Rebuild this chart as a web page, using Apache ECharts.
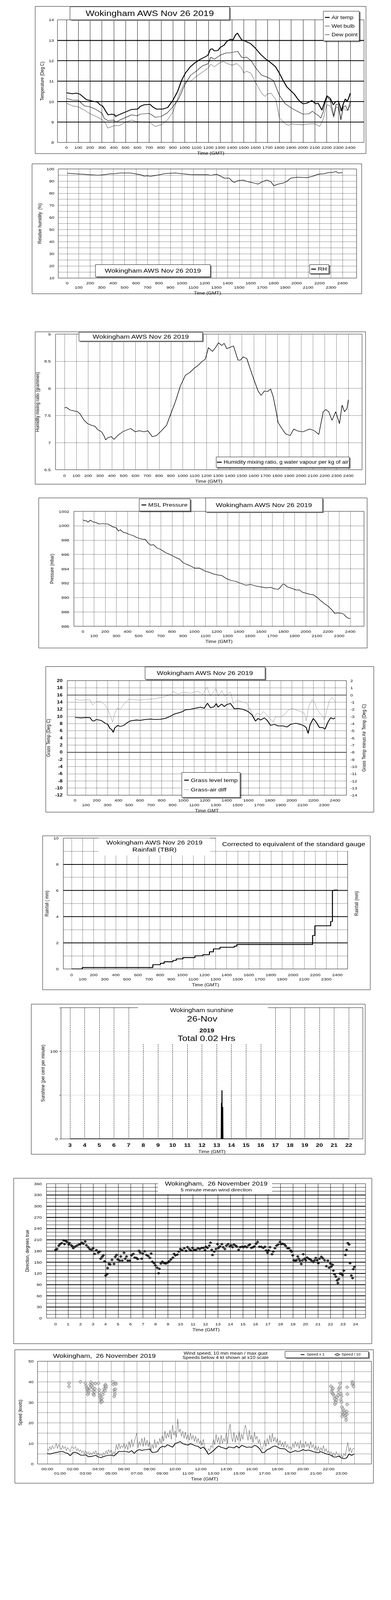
<!DOCTYPE html>
<html><head><meta charset="utf-8">
<script src="https://cdn.jsdelivr.net/npm/echarts@6/dist/echarts.min.js"></script>
<style>html,body{margin:0;padding:0;background:#fff;overflow:hidden}#wrap{position:relative;width:1000px;height:5000px;background:#fff;transform-origin:0 0}.band{position:absolute;left:0;width:1000px}</style>
</head><body><div id="wrap"></div>
<script>
// ---------- tick values ----------
const timeTicks = [0,100,200,300,400,500,600,700,800,900,1000,1100,1200,1300,1400,1500,1600,1700,1800,1900,2000,2100,2200,2300,2400];
const hourTicks = [0,1,2,3,4,5,6,7,8,9,10,11,12,13,14,15,16,17,18,19,20,21,22,23,24];
const sunTicks = [3,4,5,6,7,8,9,10,11,12,13,14,15,16,17,18,19,20,21,22];

// ---------- 1. temperatures ----------
const airTemp = [[0,10.43],[50,10.38],[83,10.41],[114,10.36],[167,10.1],[220,10.02],[263,9.97],[284,9.84],[305,9.79],[337,9.48],[352,9.35],[379,9.38],[407,9.36],[415,9.27],[443,9.35],[496,9.48],[549,9.61],[602,9.63],[623,9.76],[655,9.84],[708,9.86],[729,9.74],[761,9.63],[814,9.63],[856,9.71],[899,10.05],[941,10.51],[973,11.03],[1005,11.39],[1047,11.70],[1090,11.91],[1132,12.07],[1174,12.19],[1196,12.27],[1217,12.56],[1234,12.58],[1249,12.48],[1280,12.50],[1302,12.66],[1333,12.76],[1355,12.94],[1386,13.05],[1408,13.02],[1429,13.26],[1446,13.35],[1461,13.2],[1482,13.02],[1503,12.98],[1556,12.84],[1598,12.61],[1640,12.32],[1683,12.09],[1725,11.91],[1768,11.70],[1800,11.39],[1832,11.03],[1863,10.72],[1895,10.54],[1927,10.36],[1959,10.1],[1980,9.97],[2001,9.89],[2033,9.92],[2075,10.05],[2107,9.89],[2128,9.92],[2160,9.58],[2181,9.94],[2203,10.28],[2231,10.15],[2256,9.84],[2277,10.0],[2298,10.02],[2315,9.74],[2324,9.53],[2341,9.89],[2358,10.13],[2373,10.0],[2388,10.2],[2400,10.41]];
const wetBulb = [[0,10.16],[50,10.07],[100,10.06],[150,9.79],[200,9.74],[250,9.61],[300,9.43],[320,9.17],[350,9.07],[400,9.09],[420,8.99],[450,9.09],[500,9.22],[550,9.35],[600,9.30],[620,9.38],[700,9.42],[720,9.35],[750,9.23],[800,9.27],[850,9.43],[900,9.74],[950,10.15],[1000,10.82],[1050,11.29],[1100,11.50],[1150,11.75],[1200,11.86],[1220,12.17],[1250,12.07],[1300,12.27],[1350,12.38],[1380,12.38],[1420,12.43],[1450,12.45],[1480,12.17],[1500,12.14],[1520,12.18],[1560,12.01],[1600,11.65],[1650,11.29],[1700,11.19],[1750,11.03],[1800,10.31],[1850,9.89],[1900,9.69],[1950,9.53],[2000,9.38],[2050,9.40],[2080,9.53],[2100,9.43],[2130,9.32],[2150,9.19],[2170,9.48],[2200,10.23],[2230,10.07],[2260,9.30],[2280,9.87],[2300,9.84],[2320,9.12],[2340,9.74],[2360,9.79],[2380,9.56],[2400,10.02]];
const dewPoint = [[0,9.92],[50,9.79],[100,9.74],[150,9.58],[200,9.40],[250,9.27],[300,9.12],[330,8.94],[350,8.70],[400,8.81],[450,8.83],[500,8.99],[550,9.09],[600,9.01],[650,8.99],[700,8.99],[750,8.78],[800,8.86],[850,9.07],[900,9.48],[950,10.31],[1000,10.95],[1050,11.00],[1100,11.24],[1150,11.44],[1200,11.65],[1220,11.83],[1250,11.70],[1300,11.91],[1330,11.96],[1360,11.86],[1400,11.78],[1440,11.86],[1480,11.65],[1500,11.39],[1520,11.49],[1560,11.39],[1600,10.92],[1650,10.41],[1680,10.25],[1700,10.38],[1730,10.41],[1770,10.10],[1800,9.22],[1850,8.91],[1880,8.83],[1900,8.91],[1950,8.88],[2000,8.86],[2050,8.91],[2100,8.91],[2140,8.78],[2170,9.12],[2200,9.84],[2230,9.79],[2260,9.22],[2280,9.74],[2300,9.69],[2320,9.09],[2340,9.69],[2360,9.58],[2380,9.58],[2400,9.84]];

// ---------- 2. relative humidity ----------
const relHum = [[0,96.5],[70,96.0],[135,95.7],[200,95.2],[266,94.8],[332,95.4],[376,96.0],[419,96.2],[463,96.7],[550,96.7],[594,96.0],[638,95.2],[670,94.1],[703,94.3],[725,93.9],[769,94.6],[812,95.4],[856,96.3],[943,96.7],[1009,96.0],[1074,95.4],[1162,95.2],[1227,95.2],[1249,94.7],[1304,95.6],[1337,94.1],[1369,92.4],[1413,92.4],[1435,90.2],[1456,88.8],[1489,90.4],[1533,90.8],[1566,89.7],[1599,89.0],[1642,88.1],[1664,87.5],[1697,89.3],[1740,90.8],[1773,89.7],[1802,86.2],[1839,87.5],[1883,88.4],[1915,89.7],[1948,92.4],[2003,93.2],[2035,93.1],[2090,92.8],[2145,94.1],[2189,95.7],[2233,96.0],[2276,96.9],[2320,97.2],[2341,97.9],[2363,96.7],[2400,96.9]];

// ---------- 3. mixing ratio ----------
const mixRatio = [[0,7.64],[15,7.65],[47,7.60],[68,7.59],[110,7.57],[131,7.53],[163,7.42],[195,7.35],[227,7.32],[259,7.30],[280,7.24],[312,7.20],[333,7.13],[348,7.05],[365,7.09],[396,7.11],[418,7.06],[449,7.13],[492,7.20],[534,7.24],[560,7.26],[598,7.20],[630,7.22],[672,7.20],[704,7.22],[725,7.16],[742,7.11],[778,7.13],[820,7.22],[863,7.32],[895,7.51],[937,7.75],[979,8.04],[1022,8.24],[1064,8.30],[1096,8.37],[1128,8.42],[1160,8.49],[1191,8.54],[1217,8.75],[1251,8.68],[1276,8.75],[1302,8.84],[1329,8.79],[1350,8.83],[1372,8.73],[1403,8.76],[1429,8.78],[1467,8.52],[1488,8.52],[1510,8.58],[1541,8.55],[1573,8.34],[1605,8.14],[1637,7.95],[1662,7.87],[1690,7.95],[1717,7.94],[1743,7.99],[1764,7.85],[1785,7.63],[1806,7.37],[1838,7.26],[1870,7.16],[1908,7.13],[1938,7.25],[1976,7.21],[2018,7.20],[2071,7.25],[2113,7.22],[2150,7.15],[2188,7.57],[2209,7.61],[2234,7.57],[2262,7.41],[2293,7.57],[2325,7.35],[2347,7.69],[2368,7.57],[2389,7.63],[2400,7.79]];

// ---------- 4. MSL pressure ----------
const mslPressure = [[0,1000.8],[20,1000.68],[34,1000.68],[45,1000.48],[67,1000.78],[90,1000.53],[112,1000.48],[146,1000.23],[180,1000.29],[225,1000.23],[247,1000.04],[270,999.82],[297,999.74],[319,999.25],[337,999.44],[360,999.10],[394,998.95],[416,998.78],[450,998.63],[483,998.36],[517,998.18],[540,998.11],[558,998.12],[585,997.59],[607,997.29],[634,997.36],[663,996.92],[697,996.70],[742,996.25],[787,995.95],[832,995.58],[866,995.36],[900,994.84],[933,994.61],[967,994.39],[1001,994.10],[1046,994.10],[1091,993.72],[1136,993.50],[1170,993.28],[1215,993.13],[1248,993.05],[1282,992.68],[1327,992.39],[1372,992.24],[1417,991.97],[1462,991.72],[1507,991.82],[1541,991.64],[1575,991.52],[1608,991.46],[1642,991.35],[1687,991.42],[1721,991.20],[1754,991.15],[1772,991.42],[1795,991.87],[1810,991.82],[1833,991.49],[1878,991.27],[1912,991.05],[1946,991.05],[1968,990.75],[2001,990.60],[2035,990.45],[2069,990.38],[2103,990.01],[2136,989.53],[2170,989.12],[2204,988.75],[2237,988.23],[2260,987.78],[2282,987.85],[2316,987.81],[2339,987.71],[2361,987.33],[2384,987.11],[2400,987.08]];

// ---------- 5. grass temperature ----------
const grassTemp = [[0,9.75],[23,9.66],[58,9.6],[93,9.69],[139,9.66],[157,8.85],[174,8.7],[197,9.15],[243,8.85],[278,8.1],[301,7.8],[324,6.6],[340,6.3],[352,5.55],[366,6.75],[393,7.5],[417,7.2],[451,7.5],[474,8.1],[509,8.75],[567,9.0],[602,8.9],[648,9.15],[694,9.25],[741,9.15],[787,9.2],[833,9.45],[880,10.05],[914,10.64],[949,10.94],[984,11.24],[1018,11.84],[1065,11.99],[1111,12.28],[1157,12.58],[1192,12.28],[1222,13.71],[1250,12.43],[1284,12.73],[1303,13.62],[1319,12.58],[1354,13.47],[1377,12.73],[1400,13.32],[1435,13.62],[1470,12.13],[1504,12.22],[1551,11.99],[1597,11.39],[1632,10.49],[1666,8.7],[1689,9.45],[1713,9.0],[1748,9.6],[1771,9.0],[1805,7.5],[1840,7.8],[1875,7.35],[1921,7.35],[1956,7.05],[1990,7.8],[2037,8.1],[2071,7.86],[2106,7.5],[2134,6.9],[2152,5.26],[2169,7.65],[2199,9.45],[2226,8.4],[2256,6.9],[2286,6.9],[2307,6.45],[2337,8.55],[2360,9.66],[2383,9.3],[2400,9.6]];
const grassAirDiff = [[0,-0.59],[46,-0.74],[104,-0.67],[139,-0.67],[162,-1.41],[197,-0.89],[243,-0.97],[278,-1.41],[306,-2.16],[329,-3.05],[347,-3.8],[366,-2.6],[393,-1.79],[417,-2.01],[451,-1.26],[498,-0.59],[532,-0.64],[579,-0.71],[648,-0.64],[741,-0.52],[810,-0.3],[880,0.03],[903,0.52],[949,0.15],[1007,0.38],[1065,0.23],[1134,0.52],[1180,0.08],[1217,1.09],[1250,-0.15],[1278,0.45],[1301,0.9],[1324,-0.15],[1354,0.6],[1384,-0.22],[1407,0.15],[1435,0.38],[1462,-1.19],[1493,-0.74],[1539,-0.97],[1585,-1.12],[1620,-2.16],[1655,-3.2],[1678,-2.53],[1713,-2.75],[1740,-2.31],[1771,-2.83],[1801,-3.28],[1828,-3.8],[1851,-3.05],[1898,-3.05],[1933,-2.75],[1967,-2.16],[2002,-1.86],[2037,-2.08],[2083,-2.31],[2118,-2.6],[2134,-3.65],[2157,-1.56],[2187,-0.67],[2210,-0.97],[2233,-2.01],[2263,-2.6],[2279,-2.83],[2302,-3.5],[2326,-2.01],[2349,-0.74],[2372,-0.37],[2400,-0.89]];

// ---------- 6. rainfall (cumulative) ----------
const rainfall = [[0,0],[97,0.11],[719,0.11],[734,0.33],[802,0.43],[836,0.55],[915,0.65],[945,0.77],[1006,0.87],[1114,1.0],[1186,1.09],[1245,1.31],[1281,1.53],[1340,1.66],[1469,1.74],[1492,1.87],[2163,1.87],[2176,2.55],[2197,3.3],[2328,3.3],[2339,3.63],[2355,5.99],[2373,6.03],[2400,6.03]];

// ---------- 7. sunshine ----------
const sunshine = [[3,0],[13.31,0],[13.325,41],[13.34,0],[13.345,0],[13.36,55.5],[13.375,0],[13.395,0],[13.41,36.5],[13.425,0],[22,0]];

// ---------- 8. wind direction ----------
const windDir = [[0.0,183],[0.12,185],[0.26,194],[0.36,198],[0.50,201],[0.66,208],[0.72,198],[0.80,207],[0.92,204],[1.06,197],[1.12,201],[1.26,195],[1.36,192],[1.42,187],[1.56,191],[1.71,194],[1.87,197],[1.97,198],[2.11,202],[2.23,199],[2.37,205],[2.47,195],[2.61,190],[2.73,185],[2.87,183],[3.01,187],[3.13,172],[3.27,182],[3.41,175],[3.53,178],[3.61,159],[3.73,164],[3.83,168],[3.93,152],[4.01,114],[4.13,118],[4.17,134],[4.27,145],[4.37,144],[4.52,156],[4.68,145],[4.78,164],[4.88,169],[4.98,157],[5.14,154],[5.22,165],[5.34,154],[5.48,175],[5.58,159],[5.68,165],[5.78,154],[5.94,154],[6.08,168],[6.22,172],[6.34,162],[6.48,161],[6.58,158],[6.68,180],[6.78,175],[6.88,159],[6.98,173],[7.14,179],[7.28,169],[7.42,166],[7.55,161],[7.65,173],[7.75,151],[7.89,147],[7.99,141],[8.13,135],[8.25,120],[8.31,132],[8.43,146],[8.55,151],[8.69,147],[8.83,146],[8.99,149],[9.09,152],[9.23,157],[9.39,162],[9.49,172],[9.59,168],[9.75,170],[9.85,178],[9.99,185],[10.13,182],[10.30,187],[10.44,180],[10.56,190],[10.70,185],[10.84,181],[10.96,188],[11.10,183],[11.24,183],[11.40,187],[11.54,185],[11.70,188],[11.84,188],[11.96,182],[12.04,191],[12.16,188],[12.30,194],[12.40,202],[12.50,183],[12.56,169],[12.70,178],[12.84,185],[12.96,198],[13.04,188],[13.16,192],[13.31,198],[13.41,190],[13.55,185],[13.67,194],[13.81,198],[13.95,192],[14.05,195],[14.17,190],[14.27,197],[14.41,194],[14.51,191],[14.65,183],[14.77,190],[14.91,191],[15.05,190],[15.17,192],[15.31,190],[15.45,195],[15.55,197],[15.67,188],[15.81,190],[15.91,192],[16.05,199],[16.17,204],[16.31,191],[16.46,191],[16.62,188],[16.76,191],[16.86,181],[16.96,175],[17.06,181],[17.16,190],[17.32,171],[17.42,178],[17.56,187],[17.68,194],[17.82,197],[17.96,204],[18.06,198],[18.18,199],[18.32,197],[18.42,193],[18.56,187],[18.68,187],[18.82,181],[18.88,178],[18.98,168],[19.06,155],[19.18,154],[19.28,155],[19.38,165],[19.46,159],[19.56,154],[19.66,145],[19.76,155],[19.82,171],[19.92,159],[20.03,155],[20.13,162],[20.27,159],[20.39,157],[20.49,154],[20.63,150],[20.73,155],[20.83,161],[20.93,155],[21.03,147],[21.13,159],[21.27,164],[21.39,160],[21.53,155],[21.67,139],[21.79,154],[21.89,135],[21.99,146],[22.07,138],[22.17,143],[22.23,127],[22.33,117],[22.43,111],[22.53,101],[22.59,94],[22.67,105],[22.77,119],[22.87,119],[22.97,115],[23.07,127],[23.19,169],[23.29,183],[23.39,201],[23.49,197],[23.57,147],[23.67,114],[23.77,107],[23.83,131],[23.91,137]];

// ---------- 9. wind speed ----------
const windMean = [[0.0,5.2],[0.2,4.8],[0.4,5.2],[0.6,5.5],[0.8,5.7],[1.0,6.0],[1.2,6.1],[1.4,5.5],[1.6,5.2],[1.8,4.0],[2.0,5.5],[2.2,5.7],[2.4,5.2],[2.6,4.3],[2.8,4.2],[3.0,4.5],[3.2,3.6],[3.4,3.6],[3.6,3.9],[3.8,4.2],[4.0,3.4],[4.2,3.1],[4.4,3.6],[4.6,4.0],[4.8,4.2],[5.0,4.3],[5.2,3.9],[5.4,4.9],[5.6,6.2],[5.8,6.0],[6.0,6.2],[6.2,6.0],[6.4,5.7],[6.6,6.5],[6.8,5.2],[7.0,6.5],[7.2,7.0],[7.4,6.6],[7.6,6.9],[7.8,7.0],[8.0,7.3],[8.2,5.6],[8.4,5.7],[8.6,6.0],[8.8,7.8],[9.0,8.6],[9.2,8.3],[9.4,9.4],[9.6,8.8],[9.8,8.2],[10.0,9.9],[10.2,10.4],[10.4,10.9],[10.6,9.9],[10.8,9.5],[11.0,9.2],[11.2,9.9],[11.4,9.4],[11.6,8.8],[11.8,8.6],[12.0,7.5],[12.2,8.3],[12.4,6.8],[12.6,4.7],[12.8,5.5],[13.0,6.5],[13.2,7.8],[13.4,8.8],[13.6,8.1],[13.8,7.8],[14.0,7.3],[14.2,8.3],[14.4,8.1],[14.6,7.8],[14.8,8.8],[15.0,7.8],[15.2,9.1],[15.4,8.6],[15.6,8.1],[15.8,8.3],[16.0,8.1],[16.2,9.1],[16.4,8.6],[16.6,7.5],[16.8,5.5],[17.0,5.7],[17.2,7.0],[17.4,7.5],[17.6,8.3],[17.8,8.8],[18.0,8.3],[18.2,7.5],[18.4,7.5],[18.6,7.3],[18.8,6.2],[19.0,5.5],[19.2,6.0],[19.4,6.5],[19.6,6.1],[19.8,6.4],[20.0,7.0],[20.2,6.5],[20.4,6.8],[20.6,6.5],[20.8,6.0],[21.0,5.7],[21.2,5.5],[21.4,6.0],[21.6,5.5],[21.8,4.9],[22.0,4.7],[22.2,4.2],[22.4,3.4],[22.6,3.4],[22.8,3.9],[23.0,2.9],[23.2,2.6],[23.4,2.9],[23.6,4.9],[23.8,4.2],[24.0,4.9]];
const gustStep = 0.1; // hours between gust readings
const windGust = [7.5,6.5,8.5,7.0,9.0,7.5,8.0,10.0,7.5,9.5, 8.0,7.0,9.0,7.5,8.5,6.5,8.0,7.0,6.0,8.5, 8.0,7.5,8.5,6.5,7.5,6.0,7.0,5.5,6.5,5.0, 6.5,5.0,6.0,4.5,5.5,4.5,6.0,5.0,6.5,4.5, 5.5,4.0,5.0,3.8,5.5,4.5,6.5,5.0,7.0,5.5, 7.0,4.5,6.0,5.0,9.5,7.0,10.0,7.5,9.0,8.0, 10.0,7.5,9.5,7.0,11.0,8.0,12.0,8.5,10.5,13.0, 15.0,8.0,11.0,9.0,12.5,8.5,13.0,9.0,11.5,8.5, 11.0,6.5,9.5,7.5,12.0,8.0,11.0,9.5,12.5,10.0, 14.0,11.0,16.0,12.5,15.0,13.0,16.5,12.0,19.0,14.0, 16.0,13.0,22.0,15.5,17.0,13.5,16.0,12.5,15.5,12.0, 14.5,11.5,15.0,12.0,14.0,11.0,13.5,10.5,12.5,10.0, 11.5,9.0,12.0,8.5,7.0,5.5,7.5,6.5,9.0,8.0, 12.0,9.5,14.5,10.5,13.0,9.5,14.0,10.0,12.5,11.0, 15.0,10.0,16.5,19.5,13.0,11.0,15.5,10.5,14.0,11.5, 16.0,11.0,14.5,12.0,17.0,19.0,15.0,11.5,16.5,12.0, 14.0,10.5,15.5,12.0,13.5,10.0,12.0,8.5,7.0,9.0, 11.5,8.5,12.5,9.5,14.0,10.5,15.0,11.0,13.0,10.5, 12.5,9.0,11.5,8.5,10.5,8.0,11.0,8.0,9.5,7.5, 8.5,7.0,10.0,8.0,11.0,8.5,10.5,7.5,11.5,8.0, 10.0,8.0,11.0,8.5,10.0,7.5,11.0,8.0,9.5,7.0, 9.0,6.5,8.5,6.0,8.0,6.5,9.0,6.0,7.5,5.5, 6.5,5.0,6.0,4.0,5.5,4.0,6.0,4.5,5.0,3.5, 4.5,3.0,5.0,4.0,7.5,10.5,6.0,8.0,5.5,7.5, 7.5];
const speedDiv10 = [[1.70,39.4],[1.70,37.7],[2.59,40.0],[2.98,39.4],[3.04,38.1],[3.08,37.1],[3.12,36.4],[3.17,35.6],[3.21,34.6],[3.17,33.8],[3.27,35.6],[3.33,37.1],[3.37,38.7],[3.41,39.8],[3.47,38.1],[3.53,39.1],[3.57,37.1],[3.60,35.6],[3.60,34.0],[3.66,33.5],[3.72,35.1],[3.72,36.6],[3.76,39.1],[4.00,39.3],[4.06,36.1],[4.09,34.6],[4.11,33.3],[4.15,32.5],[4.19,31.4],[4.21,30.7],[4.19,30.0],[4.27,32.0],[4.29,30.4],[4.35,33.8],[4.39,35.1],[4.45,36.6],[4.51,38.1],[4.55,38.7],[4.58,37.1],[4.51,35.6],[4.60,37.9],[5.13,40.0],[5.17,38.7],[5.23,36.1],[5.27,35.1],[5.29,34.0],[5.23,32.9],[5.33,36.4],[5.33,39.4],[5.37,38.9],[22.18,37.8],[22.28,36.1],[22.34,36.9],[22.22,35.1],[22.30,34.3],[22.37,34.0],[22.43,33.0],[22.47,31.7],[22.53,30.4],[22.49,29.1],[22.57,29.9],[22.61,31.2],[22.67,32.5],[22.73,33.5],[22.77,35.1],[22.81,36.6],[22.86,37.4],[22.90,39.3],[22.96,34.0],[23.00,33.0],[22.96,31.2],[23.00,30.1],[23.04,27.8],[23.12,26.8],[23.08,25.0],[23.06,23.2],[23.16,24.2],[23.22,25.8],[23.26,24.7],[23.32,23.7],[23.35,22.5],[23.37,21.3],[23.41,25.6],[23.43,24.2],[23.45,29.0],[23.47,34.0],[23.45,37.4],[23.84,40.0],[23.88,38.7],[23.94,37.7],[23.90,39.4]];

// ---------- fit the 5000px-tall layout into the window actually available ----------
const availH = Math.min(5000, window.innerHeight || 5000);
if (availH < 5000) document.getElementById('wrap').style.transform = 'scaleY(' + (availH / 5000) + ')';

// ---------- build helpers ----------
const FONT = '"Liberation Sans", Arial, Helvetica, sans-serif';
const ICON_THICK = 'path://M0,0M0,3.5H12V6.5H0ZM12,10';
const ICON_THIN = 'path://M0,0M0,4.4H12V5.6H0ZM12,10';
let OY = 0, H = 0, grids, xAxes, yAxes, series, legends, graphics;

function begin(y0, y1) {
  OY = y0; H = y1 - y0;
  grids = []; xAxes = []; yAxes = []; series = []; legends = []; graphics = [];
}
function finish() {
  const d = document.createElement('div');
  d.className = 'band'; d.style.top = OY + 'px'; d.style.height = H + 'px';
  document.getElementById('wrap').appendChild(d);
  const ch = echarts.init(d, null, {renderer: 'svg', width: 1000, height: H});
  ch.setOption({animation: false, backgroundColor: '#fff', grid: grids, xAxis: xAxes, yAxis: yAxes, series, legend: legends, graphic: {elements: graphics}});
}
function txt(size, extra) { return Object.assign({fontFamily: FONT, fontSize: size, color: '#000'}, extra || {}); }
function addGrid(left, top, width, height) {
  grids.push({left, top: top - OY, width, height, show: true, borderColor: '#000', borderWidth: 1, backgroundColor: 'rgba(0,0,0,0)'});
  return grids.length - 1;
}
function addX(gi, min, max, ticks, o) {
  xAxes.push({type: 'value', gridIndex: gi, min, max,
    axisLine: {show: false},
    axisTick: {show: false, customValues: ticks},
    axisLabel: Object.assign({customValues: ticks, margin: o.margin, formatter: o.fmt || (v => '' + v), lineHeight: o.lh || 14, hideOverlap: false}, txt(o.fs || 12, o.lab || {})),
    splitLine: {show: true, lineStyle: {color: o.sc || '#000', width: 1, type: o.st || 'solid'}},
    name: o.name, nameLocation: 'middle', nameGap: o.gap, nameTextStyle: txt(o.nfs || 13)});
  return xAxes.length - 1;
}
function addY(gi, min, max, interval, o) {
  yAxes.push({type: 'value', gridIndex: gi, min, max, interval, position: o.pos || 'left',
    axisLine: {show: false},
    axisTick: {show: !!o.tick, length: 4, lineStyle: {color: '#000'}},
    axisLabel: Object.assign({show: o.labels !== false, margin: o.margin || 7, formatter: o.fmt || (v => '' + v)}, txt(o.fs || 12, o.lab || {})),
    splitLine: {show: o.split !== false, showMinLine: false, showMaxLine: false, lineStyle: {color: o.sc || '#000', width: o.sw || 1, type: o.st || 'dotted'}},
    name: o.name, nameLocation: 'middle', nameGap: o.gap, nameRotate: 90, nameTextStyle: txt(o.nfs || 13)});
  return yAxes.length - 1;
}
function frame(x, y, w, h) {
  graphics.push({type: 'rect', z: 1, shape: {x, y: y - OY, width: w, height: h}, style: {fill: 'none', stroke: '#000', lineWidth: 1}});
}
function textEl(x, y, t, fs, fw) {
  graphics.push({type: 'text', z: 62, x, y: y - OY,
    style: {text: t, fontSize: fs, fontFamily: FONT, fontWeight: fw || 'normal', fill: '#000', align: 'center', verticalAlign: 'middle', textAlign: 'center', textVerticalAlign: 'middle'}});
}
function titleBox(x, y, w, h, lines, border) {
  if (border) graphics.push({type: 'rect', z: 60, shape: {x: x + 3, y: y + 3 - OY, width: w, height: h}, style: {fill: '#808080', stroke: 'none'}});
  graphics.push({type: 'rect', z: 61, shape: {x, y: y - OY, width: w, height: h}, style: {fill: '#fff', stroke: border ? '#000' : 'none', lineWidth: 1}});
  lines.forEach(l => textEl(l.x, l.y, l.t, l.fs, l.fw));
}
function addLegend(o) {
  const top = o.top - OY;
  legends.push(Object.assign({orient: 'vertical', selectedMode: false, backgroundColor: '#fff', borderColor: '#000', borderWidth: 1,
    shadowColor: 'rgba(0,0,0,0.5)', shadowBlur: 0, shadowOffsetX: 3, shadowOffsetY: 3, itemWidth: 12, itemHeight: 10, z: 70,
    textStyle: txt(o.fs || 15)}, o, {top}));
}
function lineS(name, xi, yi, data, w, color, extra) {
  series.push(Object.assign({name, type: 'line', xAxisIndex: xi, yAxisIndex: yi, data, showSymbol: false, symbol: 'none',
    lineStyle: {color, width: w}, itemStyle: {color}, animation: false, z: 3}, extra || {}));
}
const twoRow = v => ((v / 100) % 2 ? '\n' + v : '' + v);
const hh = v => (v < 10 ? '0' : '') + v + ':00';
let g, xi, yi, yr;

// ---- chart 1: temperature ----
begin(0, 500);
frame(90, 20, 846, 460);
g = addGrid(147, 62, 784, 383);
xi = addX(g, -76, 2516, timeTicks, {margin: 9, name: 'Time (GMT)', gap: 22, fs: 12});
yi = addY(g, 8, 14, 1, {st: 'solid', sw: 2.5, name: 'Temperature (Deg C)', gap: 28, margin: 9});
lineS('Air temp', xi, yi, airTemp, 2.5, '#000');
lineS('Wet bulb', xi, yi, wetBulb, 1.2, '#000');
lineS('Dew point', xi, yi, dewPoint, 0.8, '#000');
titleBox(179, 21, 408, 41, [{x: 383, y: 42, t: 'Wokingham AWS Nov 26 2019', fs: 24}], true);
addLegend({left: 827, top: 35, itemGap: 12, padding: [12, 4, 12, 4], fs: 15,
  data: [{name: 'Air temp', icon: ICON_THICK}, {name: 'Wet bulb', icon: ICON_THIN}, {name: 'Dew point', icon: ICON_THIN}]});
finish();

// ---- chart 2: RH ----
begin(500, 1025);
frame(82, 512, 843, 406);
g = addGrid(149, 528, 763, 341);
xi = addX(g, -78, 2523, timeTicks, {margin: 8, fmt: twoRow, name: 'Time (GMT)', gap: 37, st: 'dotted'});
yi = addY(g, 10, 100, 5, {fmt: v => (v % 10 === 0 ? '' + v : ''), name: 'Relative humidity  (%)', gap: 32, margin: 10});
lineS('RH', xi, yi, relHum, 1.5, '#000');
titleBox(244, 827, 294, 38, [{x: 391, y: 846, t: 'Wokingham AWS Nov 26 2019', fs: 18}], true);
addLegend({left: 792, top: 827, padding: [6, 5, 6, 4], fs: 16, data: [{name: 'RH', icon: ICON_THICK}]});
finish();

// ---- chart 3: mixing ratio ----
begin(1025, 1540);
frame(90, 1037, 845, 476);
g = addGrid(142, 1044, 784, 424);
xi = addX(g, -76, 2516, timeTicks, {margin: 11, name: 'Time (GMT)', gap: 28, st: 'dotted'});
yi = addY(g, 6.5, 9, 0.5, {name: 'Humidity mixing ratio (grammes)', gap: 36, margin: 12});
lineS('Humidity mixing ratio, g water vapour per kg of air', xi, yi, mixRatio, 1.5, '#000');
titleBox(202, 1038, 316, 28, [{x: 360, y: 1052, t: 'Wokingham AWS Nov 26 2019', fs: 18}], true);
addLegend({left: 553, top: 1428, padding: [9, 2, 9, 2], fs: 14.5,
  data: [{name: 'Humidity mixing ratio, g water vapour per kg of air', icon: ICON_THICK}]});
finish();

// ---- chart 4: pressure ----
begin(1540, 2070);
frame(99, 1556, 840, 469);
g = addGrid(189, 1598, 742, 359);
xi = addX(g, -81, 2523, timeTicks, {margin: 9, fmt: twoRow, name: 'Time (GMT)', gap: 40, st: 'dotted'});
yi = addY(g, 986, 1002, 2, {name: 'Pressure (mbar)', gap: 44, margin: 12});
lineS('MSL Pressure', xi, yi, mslPressure, 1.5, '#000');
titleBox(526, 1556, 299, 44, [{x: 675, y: 1578, t: 'Wokingham AWS Nov 26 2019', fs: 18}], true);
addLegend({left: 356, top: 1559, padding: [11, 6, 11, 6], fs: 16, data: [{name: 'MSL Pressure', icon: ICON_THICK}]});
finish();

// ---- chart 5: grass ----
begin(2070, 2580);
frame(117, 2083, 839, 455);
g = addGrid(172, 2127, 714, 358);
xi = addX(g, -72, 2505, timeTicks, {margin: 9, fmt: twoRow, name: 'Time GMT', gap: 38, st: 'dotted'});
yi = addY(g, -12, 20, 2, {name: 'Grass Temp (Deg C)', gap: 40, margin: 12, lab: {fontWeight: 'bold'}, fs: 13});
yr = addY(g, -14, 2, 1, {pos: 'right', split: false, name: 'Grass Temp minus Air Temp (Deg C)', gap: 38, margin: 10});
lineS('Grass level temp', xi, yi, grassTemp, 2.2, '#000', {
  markLine: {silent: true, symbol: ['none', 'none'], label: {show: false}, lineStyle: {color: '#000', width: 1.5, type: 'solid'}, data: [{yAxis: 16}, {yAxis: 0}], animation: false}});
lineS('Grass-air diff', xi, yr, grassAirDiff, 1, '#8c8c8c');
titleBox(371, 2084, 307, 39, [{x: 524, y: 2103, t: 'Wokingham AWS Nov 26 2019', fs: 18}], true);
addLegend({left: 465, top: 2414, padding: [16, 6, 16, 6], itemGap: 14, fs: 16,
  data: [{name: 'Grass level temp', icon: ICON_THICK}, {name: 'Grass-air diff', icon: ICON_THIN}]});
finish();

// ---- chart 6: rainfall ----
begin(2580, 3120);
frame(109, 2612, 838, 481);
g = addGrid(162, 2619, 727, 409);
xi = addX(g, -74, 2492, timeTicks, {margin: 11, fmt: twoRow, name: 'Time (GMT)', gap: 40, st: 'dotted'});
yi = addY(g, 0, 10, 1, {fmt: v => (v % 2 === 0 ? '' + v : ''), name: 'Rainfall ( mm)', gap: 34, margin: 12});
yr = addY(g, 0, 10, 2, {pos: 'right', labels: false, st: 'solid', sw: 2.5, name: 'Rainfall (mm)', gap: 16});
lineS('Rainfall', xi, yi, rainfall, 2.5, '#000', {step: 'end'});
titleBox(252, 2619, 285, 54, [{x: 395, y: 2632, t: 'Wokingham AWS Nov 26 2019', fs: 18}, {x: 395, y: 2654, t: 'Rainfall (TBR)', fs: 18}], false);
titleBox(553, 2613, 393, 46, [{x: 751, y: 2637, t: 'Corrected to equivalent of the standard gauge', fs: 18}], false);
finish();

// ---- chart 7: sunshine ----
begin(3120, 3650);
frame(80, 3138, 854, 469);
g = addGrid(156, 3149, 772, 410);
xi = addX(g, 2.39, 22.96, sunTicks, {margin: 12, name: 'Time (GMT)', gap: 34, st: 'dashed', fs: 16, lab: {fontWeight: 'bold'}});
yi = addY(g, 0, 150, 50, {fmt: v => (v === 0 || v === 100 ? '' + v : ''), name: 'Sunshine (per cent per minute)', gap: 40, margin: 8, sc: '#999', tick: true});
lineS('Sunshine', xi, yi, sunshine, 2.5, '#000');
titleBox(353, 3140, 332, 122, [{x: 516, y: 3157, t: 'Wokingham sunshine', fs: 17}, {x: 517, y: 3184, t: '26-Nov', fs: 24}, {x: 529, y: 3220, t: '2019', fs: 17, fw: 'bold'}, {x: 528, y: 3245, t: 'Total 0.02 Hrs', fs: 24}], false);
finish();

// ---- chart 8: wind direction ----
begin(3650, 4210);
frame(35, 3682, 916, 517);
g = addGrid(119, 3699, 816, 420);
xi = addX(g, -0.72, 24.81, hourTicks, {margin: 11, name: 'Time (GMT)', gap: 29});
yi = addY(g, 0, 360, 10, {st: 'solid', fmt: v => (v % 30 === 0 ? '' + v : ''), name: 'Direction, degrees true', gap: 40, margin: 12});
yr = addY(g, 0, 360, 30, {pos: 'right', labels: false, st: 'solid', sw: 2.5});
series.push({name: 'Wind direction', type: 'scatter', xAxisIndex: xi, yAxisIndex: yi, data: windDir, symbol: 'diamond', symbolSize: [9, 9], itemStyle: {color: '#000'}, animation: false, z: 3});
titleBox(404, 3688, 292, 44, [{x: 553, y: 3698, t: 'Wokingham,  26 November 2019', fs: 18}, {x: 553, y: 3718, t: '5 minute mean wind direction', fs: 14}], false);
finish();

// ---- chart 9: wind speed ----
begin(4210, 4700);
frame(38, 4218, 917, 417);
g = addGrid(96, 4254, 854, 321);
xi = addX(g, -0.76, 25.35, hourTicks, {margin: 8, fmt: v => (v === 24 ? '' : (v % 2 ? '\n' : '') + hh(v)), name: 'Time (GMT)', gap: 37, st: 'dotted'});
yi = addY(g, 0, 50, 5, {fmt: v => (v % 10 === 0 ? '' + v : ''), name: 'Speed (knots)', gap: 38, margin: 10});
const gustData = windGust.map((v, i) => [i * gustStep, v]);
lineS('Max gust', xi, yi, gustData, 1, '#4d4d4d');
lineS('Speed x 1', xi, yi, windMean, 2, '#000');
series.push({name: 'Speed / 10', type: 'scatter', xAxisIndex: xi, yAxisIndex: yi, data: speedDiv10, symbol: 'diamond', symbolSize: [9, 11],
  itemStyle: {color: '#c8c8c8', borderColor: '#333', borderWidth: 1}, animation: false, z: 4});
textEl(267, 4236, 'Wokingham,  26 November 2019', 18);
textEl(577, 4229, 'Wind speed, 10 min mean / max gust', 13);
textEl(577, 4243, 'Speeds below 4 kt shown at x10 scale', 13);
addLegend({left: 729, top: 4223, orient: 'horizontal', padding: [5, 20, 5, 40], itemGap: 26, itemWidth: 12, itemHeight: 8, fs: 10,
  data: [{name: 'Speed x 1', icon: ICON_THICK}, {name: 'Speed / 10', icon: 'diamond'}]});
finish();
</script></body></html>
